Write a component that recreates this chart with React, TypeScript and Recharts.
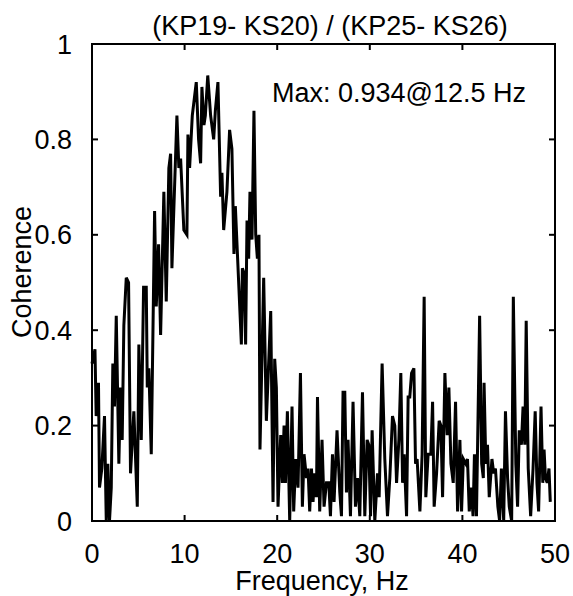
import React from "react";
import { LineChart, Line, XAxis, YAxis } from "recharts";

// coherence spectrum vertices (frequency in Hz, coherence 0..1)
const freq = [
  0.0, 0.32, 0.45, 0.7, 0.81, 1.06, 1.35, 1.54, 1.71, 1.89, 2.08, 2.25, 2.43, 2.62, 2.9, 3.08, 3.26, 3.44, 3.7, 3.95,
  4.16, 4.52, 4.89, 5.06, 5.32, 5.57, 5.86, 5.97, 6.14, 6.4, 6.76, 6.94, 7.19, 7.41, 7.76, 8.02, 8.3, 8.49, 8.63, 9.17,
  9.38, 9.57, 9.92, 10.25, 10.36, 10.54, 10.83, 11.26, 11.51, 11.73, 11.87, 12.09, 12.24, 12.5, 12.81, 13.14, 13.32,
  13.6, 13.89, 14.03, 14.22, 14.57, 14.86, 15.11, 15.33, 15.48, 16.13, 16.24, 16.41, 16.59, 16.74, 16.92, 17.06, 17.28,
  17.49, 17.68, 17.86, 18.03, 18.14, 18.54, 18.83, 19.3, 19.55, 19.73, 19.91, 20.09, 20.38, 20.56, 20.74, 20.89, 21.1,
  21.35, 21.6, 21.78, 22.0, 22.25, 22.51, 22.72, 22.9, 23.16, 23.33, 23.51, 23.7, 23.87, 24.05, 24.24, 24.35, 24.59,
  24.84, 25.06, 25.32, 25.57, 25.75, 25.97, 26.14, 26.46, 26.76, 26.94, 27.11, 27.3, 27.48, 27.65, 27.91, 28.19, 28.45,
  28.67, 28.92, 29.21, 29.46, 29.71, 29.89, 30.08, 30.25, 30.54, 30.83, 31.01, 31.33, 31.62, 31.91, 32.16, 32.45, 32.7,
  32.89, 33.14, 33.35, 33.54, 33.71, 33.97, 34.14, 34.32, 34.51, 34.76, 34.94, 35.11, 35.41, 35.65, 35.87, 36.05, 36.3,
  36.59, 36.78, 36.95, 37.21, 37.49, 37.68, 37.86, 38.11, 38.36, 38.54, 38.76, 39.01, 39.26, 39.48, 39.73, 39.91, 40.1,
  40.37, 40.55, 40.74, 40.96, 41.15, 41.3, 41.52, 41.86, 42.08, 42.26, 42.34, 42.53, 42.71, 42.9, 43.19, 43.38, 43.57,
  43.83, 44.02, 44.21, 44.46, 44.65, 44.88, 45.06, 45.32, 45.5, 45.77, 45.96, 46.14, 46.37, 46.55, 46.74, 46.89, 47.11,
  47.37, 47.63, 47.86, 48.05, 48.23, 48.49, 48.68, 48.82, 48.97, 49.16, 49.35, 49.49,
];

const coherence = [
  0.33, 0.36, 0.22, 0.29, 0.07, 0.11, 0.22, 0.0, 0.12, 0.0, 0.07, 0.33, 0.24, 0.43, 0.12, 0.28, 0.17, 0.41, 0.51, 0.5,
  0.1, 0.23, 0.03, 0.37, 0.17, 0.49, 0.49, 0.28, 0.32, 0.14, 0.65, 0.45, 0.58, 0.39, 0.69, 0.46, 0.74, 0.77, 0.53, 0.85,
  0.74, 0.76, 0.61, 0.6, 0.81, 0.74, 0.85, 0.92, 0.8, 0.75, 0.91, 0.83, 0.85, 0.934, 0.85, 0.8, 0.86,
  0.92, 0.68, 0.73, 0.61, 0.69, 0.82, 0.78, 0.56, 0.66, 0.37, 0.53, 0.52, 0.37, 0.63, 0.55, 0.69, 0.59,
  0.86, 0.6, 0.55, 0.6, 0.15, 0.51, 0.21, 0.44, 0.04, 0.34, 0.28, 0.03, 0.18, 0.08, 0.2, 0.08, 0.23,
  0.0, 0.24, 0.02, 0.13, 0.07, 0.31, 0.03, 0.14, 0.09, 0.11, 0.02, 0.11, 0.04, 0.1, 0.05, 0.26, 0.02,
  0.17, 0.03, 0.08, 0.08, 0.01, 0.14, 0.04, 0.19, 0.06, 0.01, 0.27, 0.27, 0.06, 0.17, 0.01, 0.25, 0.03,
  0.09, 0.01, 0.27, 0.01, 0.17, 0.16, 0.01, 0.19, 0.0, 0.1, 0.05, 0.33, 0.13, 0.01, 0.09, 0.22, 0.2,
  0.08, 0.17, 0.31, 0.08, 0.14, 0.01, 0.26, 0.26, 0.31, 0.32, 0.12, 0.13, 0.02, 0.14, 0.47, 0.05, 0.14,
  0.14, 0.25, 0.03, 0.1, 0.21, 0.2, 0.05, 0.31, 0.18, 0.28, 0.12, 0.08, 0.25, 0.02, 0.17, 0.02, 0.13,
  0.12, 0.13, 0.02, 0.07, 0.01, 0.14, 0.01, 0.43, 0.12, 0.09, 0.29, 0.12, 0.16, 0.05, 0.13, 0.1, 0.11,
  0.03, 0.0, 0.11, 0.0, 0.23, 0.09, 0.03, 0.0, 0.47, 0.12, 0.03, 0.19, 0.16, 0.24, 0.16, 0.42, 0.11,
  0.01, 0.11, 0.23, 0.08, 0.02, 0.24, 0.08, 0.15, 0.09, 0.08, 0.11, 0.04,
];

const xTicks = [0, 10, 20, 30, 40, 50];
const yTicks = [0, 0.2, 0.4, 0.6, 0.8, 1];
const title = "(KP19- KS20) / (KP25- KS26)";
const xLabel = "Frequency, Hz";
const yLabel = "Coherence";
const maxNote = "Max: 0.934@12.5 Hz";

const data = freq.map((f, i) => ({ f, c: coherence[i] }));

const font = "'Liberation Sans', Arial, sans-serif";
const tickStyle = { fill: "#000", fontSize: 27, fontFamily: font };
const noLabel = () => "";

// plot box (margins + axis sizes below give left 92, top 44, right 555, bottom 521)
const box = { left: 92, top: 44, right: 555, bottom: 521 };

export default function App() {
  return (
    <div style={{ position: "absolute", left: 0, top: 0, width: 573, height: 596, background: "#fff" }}>
      <LineChart width={573} height={596} data={data} margin={{ top: 34, right: 8, bottom: 45, left: 0 }}>
        <XAxis
          dataKey="f"
          type="number"
          domain={[0, 50]}
          ticks={xTicks}
          interval={0}
          height={30}
          tick={tickStyle}
          tickSize={-6}
          tickMargin={29}
          axisLine={{ stroke: "#000", strokeWidth: 2 }}
          tickLine={{ stroke: "#000", strokeWidth: 2 }}
        />
        <XAxis
          xAxisId="top"
          orientation="top"
          dataKey="f"
          type="number"
          domain={[0, 50]}
          ticks={xTicks}
          interval={0}
          height={10}
          tickFormatter={noLabel}
          tickSize={-6}
          axisLine={{ stroke: "#000", strokeWidth: 2 }}
          tickLine={{ stroke: "#000", strokeWidth: 2 }}
        />
        <YAxis
          type="number"
          domain={[0, 1]}
          ticks={yTicks}
          interval={0}
          width={92}
          tick={tickStyle}
          tickSize={-6}
          tickMargin={26}
          axisLine={{ stroke: "#000", strokeWidth: 2 }}
          tickLine={{ stroke: "#000", strokeWidth: 2 }}
        />
        <YAxis
          yAxisId="right"
          orientation="right"
          type="number"
          domain={[0, 1]}
          ticks={yTicks}
          interval={0}
          width={10}
          tickFormatter={noLabel}
          tickSize={-6}
          axisLine={{ stroke: "#000", strokeWidth: 2 }}
          tickLine={{ stroke: "#000", strokeWidth: 2 }}
        />
        <Line
          type="linear"
          dataKey="c"
          stroke="#000"
          strokeWidth={3}
          dot={false}
          isAnimationActive={false}
        />
        {/* invisible copy so the top and right box axes get a scale */}
        <Line
          xAxisId="top"
          yAxisId="right"
          type="linear"
          dataKey="c"
          stroke="none"
          strokeWidth={0}
          dot={false}
          activeDot={false}
          isAnimationActive={false}
        />
      </LineChart>
      <svg
        width={573}
        height={596}
        style={{ position: "absolute", left: 0, top: 0, pointerEvents: "none" }}
        fontFamily={font}
        fontSize={27}
      >
        <rect
          x={box.left}
          y={box.top}
          width={box.right - box.left}
          height={box.bottom - box.top}
          fill="none"
          stroke="#000"
          strokeWidth={2}
        />
        <text x={330} y={35} textAnchor="middle" fill="#000">{title}</text>
        <text x={272} y={102} fill="#000">{maxNote}</text>
        <text x={322} y={590} textAnchor="middle" fill="#000">{xLabel}</text>
        <text x={31} y={272} textAnchor="middle" fill="#000" transform="rotate(-90 31 272)">{yLabel}</text>
      </svg>
    </div>
  );
}
